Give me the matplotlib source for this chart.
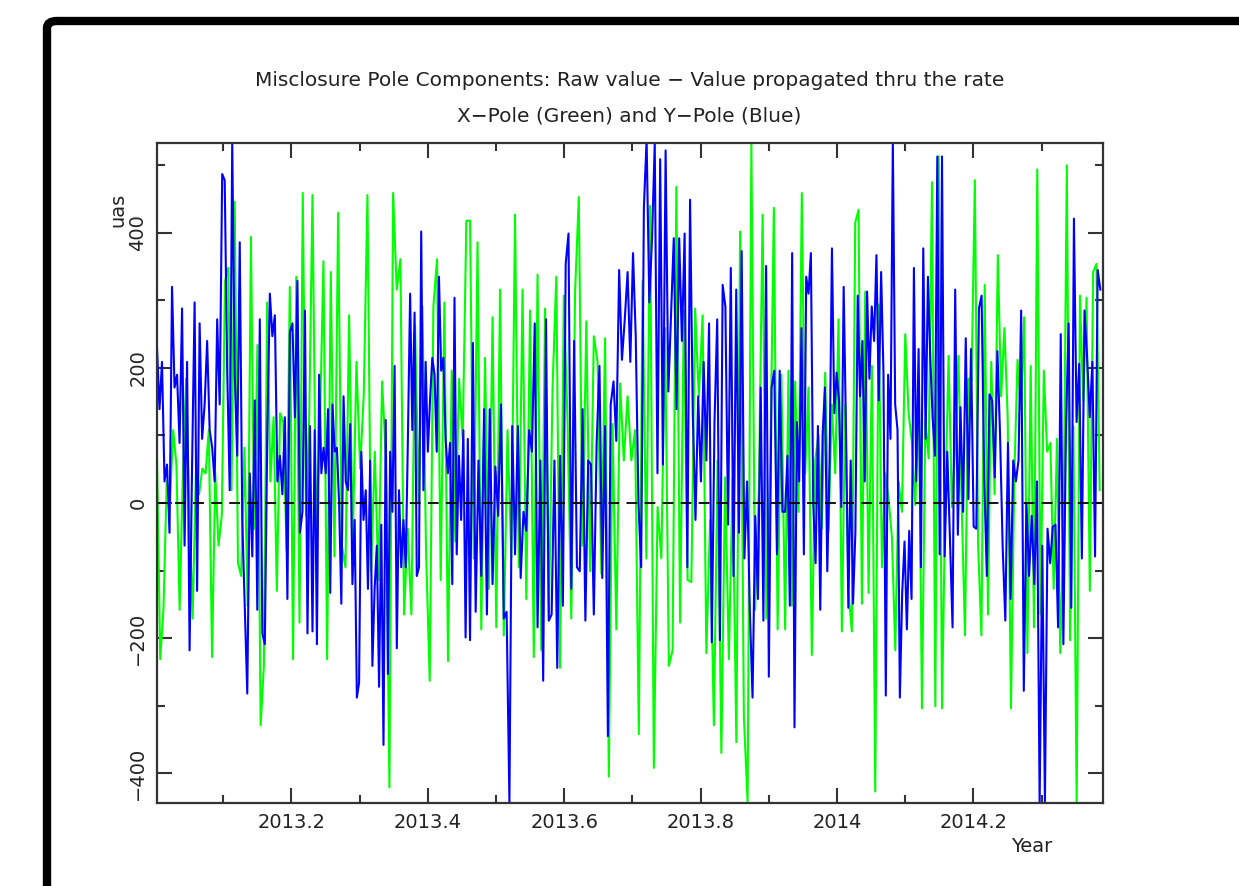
import numpy as np
import matplotlib
matplotlib.use("Agg")
import matplotlib.pyplot as plt
from matplotlib.patches import FancyBboxPatch
from matplotlib.ticker import MultipleLocator, FixedLocator, FuncFormatter

# segment edges (year) -- the samples of each segment are spread evenly over it
seg_edges = [2013.003, 2013.231, 2013.462, 2013.693, 2013.924, 2014.154, 2014.39]

# Y-Pole (blue), uas
ypole = [
    [231, 139, 209, 32, 57, -44, 320, 171, 190, 89, 288, -63, 209, -218, 57, 297, -130, 266,
     95, 146, 240, 108, 82, 32, 272, 146, 487, 478, 196, 19, 535, 190, 70, 386, -25, -152,
     -282, 44, -79, 152, -158, 272, -193, -209, 108, 310, 247, 278, 32, 70, 13, 127, -142,
     253, 266, 127, 329, -44, -13, 285, -193, 114],
    [-190, 108, -209, 190, 44, 82, 44, 139, -133, 146, 76, 82, 0, -149, 158, 32, 19, 117,
     -120, -25, -288, -266, 76, -25, 19, -127, 63, -241, -127, -63, -272, -32, -358, 123,
     -253, 76, -13, 203, -215, 19, -95, -25, -95, 95, 310, 108, 282, -108, -95, 402, 19,
     209, 76, 155, 215, 190, 76, 335, 196, 215, 95, 44, 89, -120, 304, -76, 70, -25, 108,
     -199, 95],
    [-203, 237, -161, 63, -108, 139, -165, 139, -120, 54, -19, 146, -171, -161, -443, 114,
     -76, 114, -111, -13, -41, 108, 76, 266, -184, 63, -263, 272, -174, -165, 63, -244, 70,
     -152, 354, 399, -127, 240, -95, -101, 139, -174, 63, 57, -165, 89, 203, -111, 114,
     -345, 146, 180, 92, 345, 212, 272],
    [342, 209, 370, 247, 0, -95, 437, 538, 297, 392, 532, 44, 509, 57, 522, 165, 278, 392,
     139, 392, 240, 399, -95, 449, 133, -25, 158, 32, 209, 63, 266, -206, 120, 272, -203,
     323, 291, -32, 348, -108, 316, -44, 373, -82, 32, -158, -288, -19, -142, 171, -174,
     351, -257, 171, 196, -76, 196, -13],
    [-13, 70, -152, 370, -332, 120, 32, 259, -76, 335, 310, 370, 0, -89, 114, -158, 101,
     171, -101, 63, 377, 133, 193, 152, -6, 320, 108, -155, 63, -149, -44, 307, 158, 240,
     32, 313, 184, 291, 240, 367, 152, 342, 193, -285, 190, 95, 535, 146, 108, -288, -133,
     -57, -187, -41, -142, 348, 32, 228, -95, 377, 95, 335, 215, 127, 70, 513, -76],
    [513, -79, 76, -51, -184, 316, -47, 142, -13, 244, 6, 228, -35, -38, 288, 307, 38, -108,
     161, 152, 38, 225, 101, -66, -174, 89, -142, 63, 32, 63, 285, -278, 0, -108, -19, -120,
     32, -443, -63, -443, -38, -89, -35, -32, -184, 250, -209, 117, 266, -155, 421, 120,
     206, -82, 285, 215, 127, 209, -79, 345, 316],
]

# X-Pole (green), uas
xpole = [
    [70, -231, -158, 32, 0, 108, 57, -158, 44, 184, -13, -171, 44, 13, 51, 44, 108, -228,
     44, -63, -19, 329, 348, 19, 446, -89, -108, 82, -152, 394, -38, 234, -329, -241, 297,
     32, 127, -130, 133, 120, -70, 320, -231, 335, -177, 459, -19, 127],
    [456, -44, 108, 358, -231, 342, -79, 430, -63, -95, 278, -57, 209, 51, 161, 456, -101,
     76, -114, 180, 70, -421, 459, 316, 361, -165, -38, -165, 263, 0, 291, -73, -263, 291,
     361, -114, 297, -234, 196, -57, 184, 95, 418],
    [418, -82, 386, -187, 215, -127, 275, -184, 316, -196, 108, -82, 427, -95, 316, -142,
     285, -228, 338, -218, 288, -174, 171, 335, -244, 307, 120, -171, 313, 453, -63, 269,
     -101, 247, 209, -104, 244, -405, 117, -187, 177, 63],
    [158, 63, 108, -342, 329, -82, 440, -392, -6, -82, 259, -241, -218, 468, -177, 285,
     -114, -117, 288, 158, 278, -222, -25, -329, 63, -370, 38, -231, 38, -354, 402, -316,
     -443, 532, -158, 22, 427, -171, 41, 437, -187, 190],
    [-187, 196, -152, 180, -13, 459, 44, 171, -225, 63, 101, -38, 193, -41, 146, 44, 272,
     -190, 146, -133, -190, 415, 434, -149, 313, -133, 203, -427, 294, -95, 44, 6, -51,
     -218, 32, -13, 250, 133, 89, -3, 184, -304, 123, 66, 475, -301, 513],
    [-304, 0, 218, -6, 82, 218, -3, -196, 184, 180, 478, -63, -196, 323, -165, 209, 13,
     367, 158, 259, 127, -304, 38, 212, 139, 275, -222, 203, -184, 494, -165, 196, 76, 89,
     -127, 95, -222, -38, 500, -203, 114, -449, 307, 152, 304, -130, 342, 354, 19],
]

x_ticks = [2013.2, 2013.4, 2013.6, 2013.8, 2014.0, 2014.2]
y_ticks = [-400, -200, 0, 200, 400]


def series(segs):
    xs, ys = [], []
    for i, vals in enumerate(segs):
        t = np.linspace(seg_edges[i], seg_edges[i + 1], len(vals), endpoint=False)
        xs.extend(t)
        ys.extend(vals)
    return np.array(xs), np.array(ys)


fig = plt.figure(figsize=(12.39, 8.86), dpi=100)
ax = fig.add_axes([0.1267, 0.0937, 0.7635, 0.7449])

# outer frame (only top/left visible in the picture)
frame = FancyBboxPatch((47 / 1239, -0.2), 1.3, 1.2 - 21 / 886,
                       boxstyle="round,pad=0,rounding_size=0.008",
                       transform=fig.transFigure, fill=False, ec="black", lw=6,
                       clip_on=False)
fig.patches.append(frame)

gx, gy = series(xpole)
bx, by = series(ypole)
ax.plot(gx, gy, color="#00ff00", lw=1.5)
ax.plot(bx, by, color="#0000ff", lw=1.5)
ax.axhline(0, color="black", lw=1.3, ls=(0, (6, 4)))

ax.set_xlim(2013.003, 2014.39)
ax.set_ylim(-444, 533)

ax.xaxis.set_major_locator(FixedLocator(x_ticks))
ax.xaxis.set_minor_locator(MultipleLocator(0.1))
ax.yaxis.set_major_locator(FixedLocator(y_ticks))
ax.yaxis.set_minor_locator(MultipleLocator(100))
ax.xaxis.set_major_formatter(FuncFormatter(lambda v, p: f"{v:.1f}".rstrip("0").rstrip(".")))
ax.tick_params(which="both", direction="in", top=True, right=True, width=1.5,
               color="#333333", labelsize=14, labelcolor="#222222")
ax.tick_params(which="major", length=11, pad=7)
ax.tick_params(which="minor", length=6)
for lab in ax.get_yticklabels():
    lab.set_rotation(90)
    lab.set_va("center")
for s in ax.spines.values():
    s.set_linewidth(1.6)
    s.set_color("#333333")

fig.text(0.508, 0.909, "Misclosure Pole Components: Raw value \u2212 Value propagated thru the rate",
         ha="center", va="center", fontsize=14.5, color="#222222")
fig.text(0.508, 0.869, "X\u2212Pole (Green) and Y\u2212Pole (Blue)",
         ha="center", va="center", fontsize=14.5, color="#222222")
fig.text(118 / 1239, 1 - 210 / 886, "uas", rotation=90, ha="center", va="center",
         fontsize=14, color="#222222")
fig.text(1032 / 1239, 1 - 846 / 886, "Year", ha="center", va="center",
         fontsize=14, color="#222222")

fig.savefig("out.png", dpi=100, facecolor="white")
